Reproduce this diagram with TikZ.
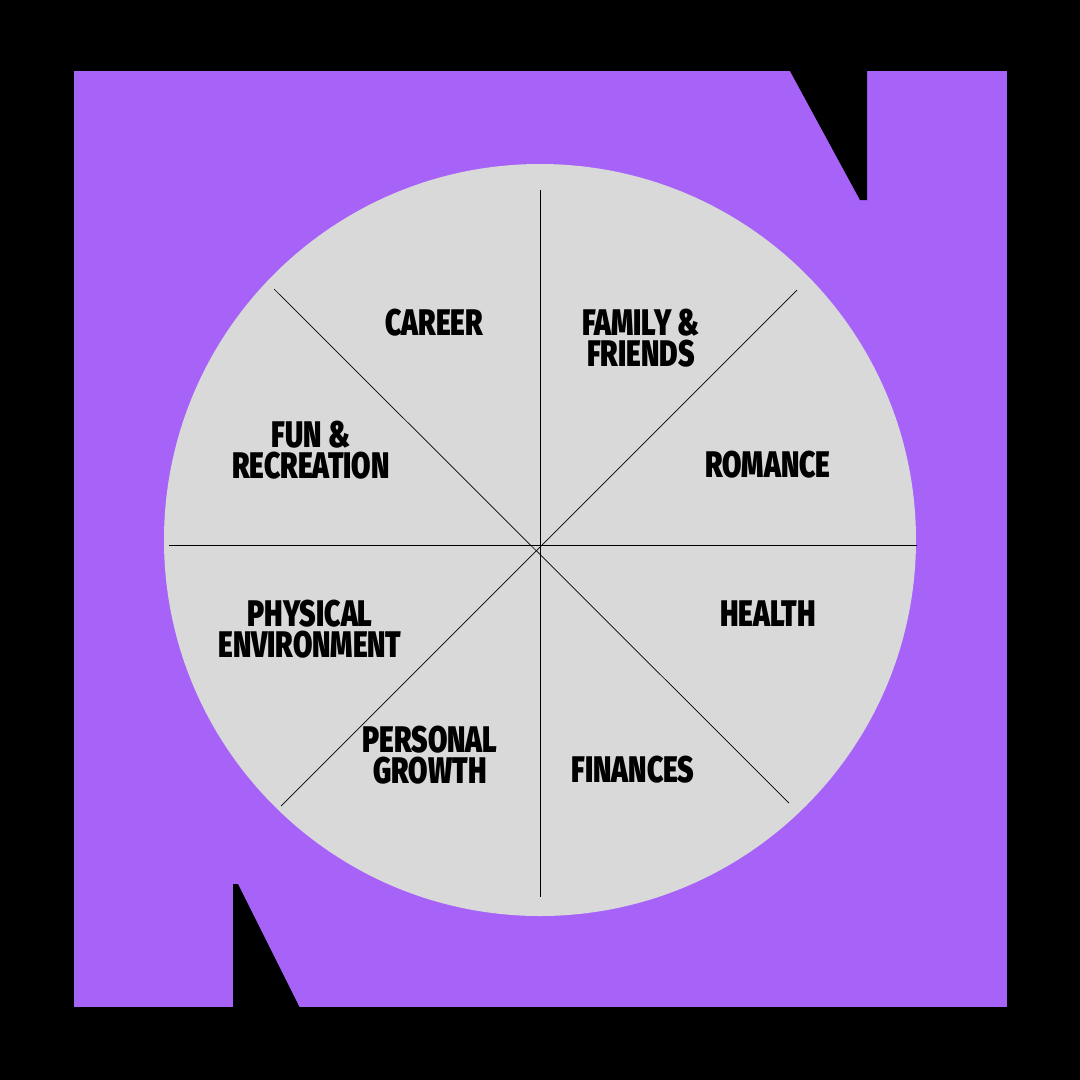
\documentclass[tikz,border=0pt]{standalone}
\usepackage{fontspec}
\setmainfont{Fira Sans}[FakeStretch=0.76,UprightFont=* Black]
\begin{document}
\begin{tikzpicture}[x=1pt,y=-1pt,
  lbl/.style={align=center,font=\fontsize{37}{31}\selectfont,inner sep=0pt,text=black},
  spoke/.style={draw=black,line width=0.7pt}]
\useasboundingbox (0,0) rectangle (1080,1080);
\fill[black] (0,0) rectangle (1080,1080);
\fill[fill={rgb,255:red,167;green,99;blue,247}] (74,71) rectangle (1007,1007);
\fill[black] (790,71) -- (867,71) -- (867,200) -- (860,200) -- cycle;
\fill[black] (233,884) -- (238,884) -- (300,1008) -- (233,1008) -- cycle;
\node[circle,fill={rgb,255:red,217;green,217;blue,217},minimum size=752pt,inner sep=0pt] (c) at (540,540) {};
\coordinate (t) at (540,190); \coordinate (b) at (540,897);
\coordinate (l) at (169,545); \coordinate (r) at (917,545);
\coordinate (tl) at (274,289); \coordinate (br) at (789,803);
\coordinate (tr) at (797,290); \coordinate (bl) at (281,806);
\draw[spoke] (t) -- (b); \draw[spoke] (l) -- (r);
\draw[spoke] (tl) -- (br); \draw[spoke] (tr) -- (bl);
\node[lbl] (n1) at (434,323) {CAREER};
\node[lbl] (n2) at (641,338) {FAMILY \&\\FRIENDS};
\node[lbl] (n3) at (311,450) {FUN \&\\RECREATION};
\node[lbl] (n4) at (768,465) {ROMANCE};
\node[lbl] (n5) at (310,629) {PHYSICAL\\ENVIRONMENT};
\node[lbl] (n6) at (768,614) {HEALTH};
\node[lbl] (n7) at (430,755) {PERSONAL\\GROWTH};
\node[lbl] (n8) at (633,770) {FINANCES};
\end{tikzpicture}
\end{document}
